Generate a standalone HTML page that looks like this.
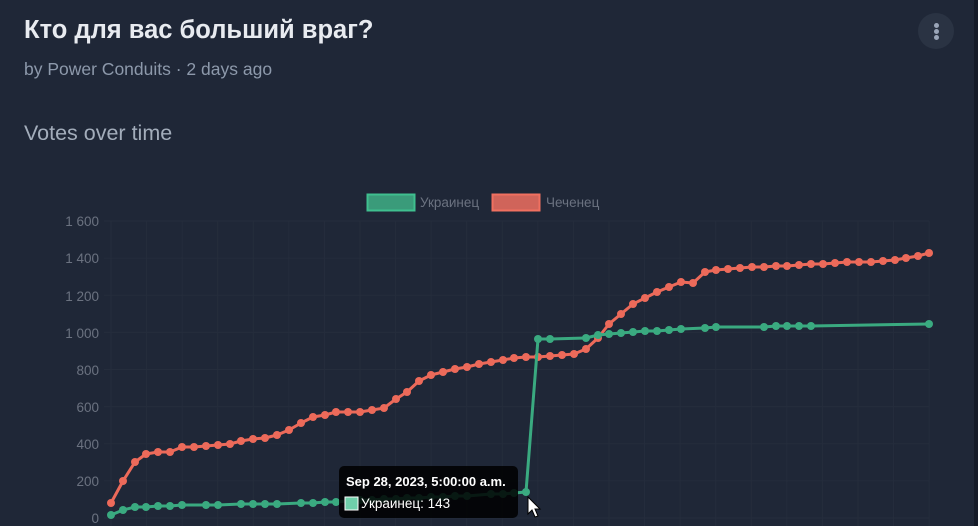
<!DOCTYPE html>
<html><head><meta charset="utf-8"><style>
html,body{margin:0;padding:0;width:978px;height:526px;overflow:hidden;background:#1f2737;font-family:"Liberation Sans",sans-serif;}
.strip{position:absolute;left:974px;top:0;width:4px;height:526px;background:#151b28}
h1{position:absolute;left:24px;top:16px;margin:0;font-size:25.5px;font-weight:bold;color:#e8ebf0;}
.sub{position:absolute;left:24px;top:59px;font-size:17.5px;color:#8d99ab}
.vt{position:absolute;left:24px;top:121px;font-size:21.5px;color:#a3adbb}
.menu{position:absolute;left:918px;top:13px;width:36px;height:36px;border-radius:50%;background:#2a3343}
.menu i{position:absolute;left:16px;width:5px;height:5px;border-radius:50%;background:#9aa5b8}
svg{position:absolute;left:0;top:0}
</style></head><body>
<h1>Кто для вас больший враг?</h1>
<div class="sub">by Power Conduits · 2 days ago</div>
<div class="vt">Votes over time</div>
<div class="menu"><i style="top:10px"></i><i style="top:16px"></i><i style="top:22px"></i></div>
<div class="strip"></div>
<svg id="s" width="978" height="526" xmlns="http://www.w3.org/2000/svg">
<g id="grid" stroke="#252d3c" stroke-width="1"></g>
<g font-size="13.5" fill="#6b7280" text-anchor="end" font-family="Liberation Sans, sans-serif">
<text x="99" y="226">1 600</text><text x="99" y="263">1 400</text><text x="99" y="301">1 200</text><text x="99" y="338">1 000</text>
<text x="99" y="375">800</text><text x="99" y="412">600</text><text x="99" y="449">400</text><text x="99" y="486">200</text><text x="99" y="523">0</text>
</g>
<rect x="367.5" y="194.5" width="47" height="16" fill="#3a9b7a" stroke="#3fbf8f" stroke-width="2"/>
<text x="420" y="207" font-size="13.5" fill="#6b7280">Украинец</text>
<rect x="492.5" y="194.5" width="47" height="16" fill="#d0645a" stroke="#f07060" stroke-width="2"/>
<text x="546" y="207" font-size="13.5" fill="#6b7280">Чеченец</text>
<g id="series"></g>
<rect x="339" y="466" width="179" height="52" rx="5" fill="#000" fill-opacity="0.85"/>
<text x="346" y="486" font-size="13" font-weight="bold" fill="#fff">Sep 28, 2023, 5:00:00 a.m.</text>
<rect x="345" y="497" width="13" height="13" fill="#6fcfaa" stroke="#fff" stroke-width="1"/>
<text x="361" y="508" font-size="13.5" fill="#fff">Украинец: 143</text>
<path d="M528 497 L528 514 L532 510 L535 517 L538 516 L535 509 L540 509 Z" fill="#fff" stroke="#000" stroke-width="1"/>
</svg>
<script>
var g=document.getElementById('grid'),h='';
for(var i=0;i<=23;i++){var x=111+i*35.57;h+='<line x1="'+x+'" y1="221" x2="'+x+'" y2="526"/>';}
for(var j=0;j<=8;j++){var y=221+j*37.125;h+='<line x1="104" y1="'+y+'" x2="929" y2="'+y+'"/>';}
g.innerHTML=h;
var red=[[111,503],[123,481],[135,462],[146,454],[158,452],[170,452],[182,447],[194,447],[206,446],[218,445],[230,444],[241,441],[253,439],[265,438],[277,435],[289,430],[301,423],[313,417],[325,415],[336,412],[348,412],[360,412],[372,410],[384,408],[396,399],[407,392],[419,381],[431,375],[443,372],[455,369],[467,367],[479,364],[491,362],[503,360],[514,358],[526,357],[538,357],[550,356],[562,355],[574,354],[586,349],[598,338],[609,324],[621,314],[633,304],[645,298],[657,292],[669,287],[681,282],[693,283],[705,272],[716,270],[728,269],[740,268],[752,267],[764,267],[776,266],[787,266],[799,265],[811,264],[823,264],[835,263],[847,262],[859,262],[871,262],[883,261],[895,260],[906,258],[918,256],[929,253]];
var grn=[[111,515],[123,510],[135,507],[146,507],[158,506],[170,506],[182,505],[206,505],[218,505],[241,504],[253,504],[265,504],[277,504],[301,503],[313,503],[325,502],[336,502],[348,501],[360,500],[372,500],[384,499],[396,499],[407,498],[419,498],[431,497],[443,497],[455,496],[467,496],[491,494],[503,494],[514,493],[526,492],[538,339],[550,339],[586,338],[598,335],[609,334],[621,333],[633,332],[645,331],[657,331],[669,330],[681,329],[705,328],[716,327],[764,327],[776,326],[787,326],[799,326],[811,326],[929,324]];
function ser(p,c){var s='<polyline fill="none" stroke="'+c+'" stroke-width="3" stroke-linejoin="round" points="'+p.map(function(a){return a.join(',')}).join(' ')+'"/>';
p.forEach(function(a){s+='<circle cx="'+a[0]+'" cy="'+a[1]+'" r="4" fill="'+c+'"/>';});return s;}
document.getElementById('series').innerHTML=ser(red,'#ec6a5a')+ser(grn,'#3aaa80');
</script>
</body></html>
